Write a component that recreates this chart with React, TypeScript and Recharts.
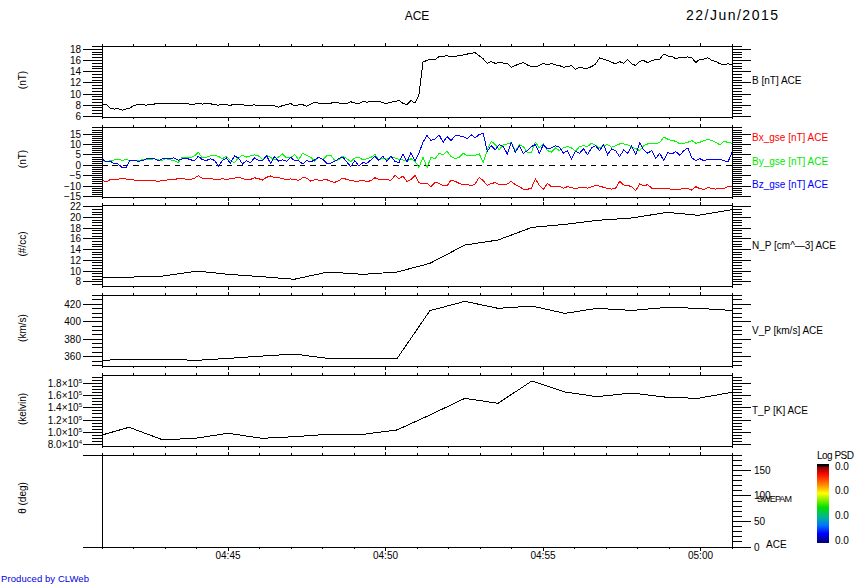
import { LineChart, Line, XAxis, YAxis, ReferenceLine } from "recharts";

const FONT = "'Liberation Sans', Arial, sans-serif";

// magnetic field, nT, evenly spaced over the 20 minutes
const bTotal = [
  8.1, 8.2, 7.5, 7.3, 7.4, 7.1, 7.3, 7.5, 8.0, 8.05, 8.1, 8.0, 8.15, 8.2, 8.3, 8.35, 8.3, 8.3, 8.25, 8.3,
  8.25, 8.3, 8.15, 8.2, 8.25, 8.2, 8.3, 8.25, 8.1, 8.0, 8.1, 8.05, 8.0, 8.1, 8.15, 8.1, 7.95, 8.0, 8.05, 7.9,
  7.85, 7.9, 7.95, 7.9, 7.6, 7.95, 8.1, 8.3, 7.9, 8.05, 8.1, 7.8, 8.2, 8.5, 8.35, 8.35, 8.25, 8.35, 8.55, 8.4,
  8.25, 8.3, 8.6, 8.4, 8.25, 8.65, 8.55, 8.6, 8.7, 8.7, 8.4, 8.35, 8.55, 8.6, 8.85, 8.35, 8.1, 8.85, 8.35, 9.9,
  15.7, 16.05, 16.25, 16.15, 16.7, 16.75, 16.85, 16.7, 16.75, 16.85, 17, 17.15, 17.3, 17.4, 16.85, 16.3, 15.5, 15.8, 15.5, 15.65,
  15.55, 15.5, 14.8, 15.1, 15.4, 15.65, 15.2, 14.9, 14.9, 15.1, 15.5, 15.2, 15.5, 15.2, 15.1, 14.8, 14.9, 15.1, 14.4,
  14.8, 14.65, 14.65, 14.9, 15.4, 16.45, 16.25, 16, 15.7, 15.4, 15.8, 15.5, 16.2, 15.4, 15.1, 15.85, 16, 15.6, 16, 16.15,
  16.25, 17.15, 16.8, 16.8, 16.3, 16.55, 16.45, 16.65, 16.45, 15.65, 16.25, 16.25, 16.5, 16, 15.85, 15.4, 15.3, 15.4, 15.3,
];
const bx = [
  -7.25, -8, -6.95, -6.8, -6.8, -6.15, -6.6, -6.95, -7.1, -7.4, -7.25, -7.1, -7.4, -7.4, -7.75, -7.25, -7.1, -6.95, -6.8, -6.45,
  -6.3, -6.8, -6.8, -6.3, -5, -6.3, -6.6, -6.3, -6.8, -6.8, -6.45, -6.95, -6.45, -6.15, -5.65, -6.45, -6.8, -6.8, -6, -6.45,
  -7.1, -5.8, -5.15, -6, -6, -6.45, -6.8, -6.6, -6.8, -7.25, -6, -6.15, -7.6, -6.95, -7.1, -7.1, -6.95, -7.75, -8.2, -7.4,
  -6.15, -6.8, -7.25, -7.6, -7.6, -7.25, -7.9, -7.4, -6, -6.8, -7.1, -6.95, -7.25, -4.85, -6.45, -5.15, -7.75, -6.8, -4.85, -8.4,
  -9, -8.7, -10.3, -8.2, -8.7, -9.85, -9.85, -7.1, -7.75, -8.7, -9.35, -9, -10, -9, -5.8, -7.4, -9.7, -8.7, -8.4, -9.35,
  -9.5, -9, -7.75, -9.35, -10.3, -11.45, -11.6, -11, -6.6, -9.7, -11.6, -8.7, -10.3, -10.3, -10, -11, -10.3, -10.8, -11.3,
  -10.65, -10.65, -11, -10.3, -9.7, -10, -10.65, -11.15, -11.45, -11, -7.75, -9.5, -9.7, -10.3, -12.25, -9, -9.85, -9.35, -11, -11.3,
  -11.15, -11.15, -11.15, -11.6, -11.45, -11.6, -11.15, -11.3, -11.95, -10.3, -11.3, -11.6, -10.65, -11.3, -11.45, -11, -11.3, -10.3, -10,
];
const by = [
  2.4, 1.6, 2.25, 2.6, 2.9, 2.4, 2.75, 2.4, 2.4, 2.4, 2.6, 2.9, 2.75, 3.2, 2.6, 2.4, 3.2, 2.6, 2.25, 1.3,
  4, 3.85, 3.55, 4.5, 6.3, 3.55, 3.85, 4.5, 4.85, 4.35, 3.2, 4.35, 2.25, 1.3, 3.55, 4.85, 4, 4.5, 5, 4.5,
  2.9, 4.85, 3.85, 2.6, 4, 5.5, 3.55, 3.55, 5.3, 2.75, 5.8, 4.85, 3.85, 1.95, 3.85, 2.75, 4.5, 4.85, 2.25, 2.6,
  4.5, 3.2, 1.8, 3.55, 4, 2.6, 3.2, 3.7, 5.3, 2.6, 3.55, 2.9, 3.85, 3.55, 2.9, 2.6, 1.95, 3.2, 1.95, -1,
  3.85, -1, 3.85, 3.05, 5.8, 5.15, 6.8, 4.2, 3.2, 3.85, 5.8, 4.7, 4.5, 4.85, 5.5, 1.45, 7.4, 11.6, 10, 7.4,
  10, 10.3, 11, 6.8, 10, 9, 6.3, 6.3, 11.1, 8.4, 10.3, 7.1, 6.3, 8.4, 7.1, 8.4, 9, 8.4, 6.8,
  9, 9.5, 9, 10.65, 9.65, 8.4, 9.5, 10, 8.7, 9.5, 10.3, 10.3, 10, 8.7, 8.05, 7.1, 9.5, 10.3, 10.65, 10.3,
  11, 13.55, 12.6, 11.95, 11.6, 10.3, 10.65, 11.1, 11.95, 10.65, 11.1, 11.95, 12.4, 11.95, 11, 9.85, 11.6, 11, 10.65,
];
const bz = [
  3.2, 1.6, 1.95, 0.95, 0.65, -1, -1.15, 2.4, 2.4, 1.95, 2.25, 3.05, 3.2, 3.4, 2.1, 3.05, 3.05, 3.4, 3.55, 2.4,
  3.05, 3.4, 2.75, 2.1, 4.35, 2.75, 2.25, 3.2, 2.4, -0.3, 2.25, 3.55, 0.95, 4.5, 3.55, 0.65, 2.25, 1.3, 3.55, 2.4,
  2.1, 4.7, 0.95, 4.2, 1.95, 2.6, 1.95, 3.85, 2.25, 2.1, 0.65, 2.25, 1.6, 2.6, 3.85, 2.9, 0.95, 0.95, 1.95, 3.2,
  4, 1.6, -0.65, 2.25, -0.3, 1.3, 0.95, 2.6, 4.35, 2.4, 4.35, 1.95, 4.5, 1.95, 1.3, 5.5, 1.6, 6.1, 1.95, 6.1,
  11.1, 14.35, 11.95, 12.75, 14.7, 11.1, 13.85, 11.95, 14.35, 14.2, 13.85, 12.9, 14.7, 13.2, 14.85, 15.5, 6.8, 9.5, 7.4, 10,
  9, 5.5, 11, 6.3, 9.5, 5.8, 7.1, 9, 10, 5.8, 10, 7.9, 8.4, 9.35, 8.7, 5.8, 7.1, 3, 6.8,
  5.8, 7.9, 5.15, 8.4, 9.5, 7.1, 10, 5.15, 7.9, 7.1, 4.2, 7.4, 5.8, 9.35, 5.15, 11, 7.4, 5.8, 7.1, 3.2,
  5.8, 2.25, 6.1, 5.5, 6.6, 4.85, 7.1, 8.4, 3.55, 2.25, 3.2, 2.25, 2.9, 2.6, 3.05, 2.9, 2.25, 1.6, 6.3,
];

// plasma moments, minutes after 04:41
const plasmaMinutes = [0, 0.86, 1.94, 3.02, 4.0, 5.08, 6.1, 7.17, 8.29, 9.37, 10.41, 11.52, 12.57, 13.65, 14.7, 15.71, 16.83, 17.94, 18.92, 20];
const density = [8.82, 8.85, 9.06, 9.99, 9.38, 8.94, 8.45, 9.81, 9.38, 9.81, 11.43, 14.85, 15.78, 18.15, 18.7, 19.45, 19.9, 20.95, 20.4, 21.44];
const speed = [355.8, 357, 357, 355.8, 358, 360.7, 363, 358, 358, 358, 412.7, 423.4, 415.4, 418, 409.6, 415.4, 413, 416.5, 415.4, 413];
const temperature = [95700, 108300, 87600, 90800, 98500, 90300, 93000, 96800, 96800, 104000, 128300, 155500, 147400, 183800, 165800, 158200, 164200, 157100, 155500, 165300];
const theta: number[] = [];

const minuteTicks = [0, 1, 2, 3, 4, 5, 6, 7, 8, 9, 10, 11, 12, 13, 14, 15, 16, 17, 18, 19, 20];
const timeMajors = [4, 9, 14, 19];
const timeLabels = ["04:45", "04:50", "04:55", "05:00"];

const evenly = (values: number[]) => values.map((v, i) => ({ t: (i * 20) / (values.length - 1), v }));
const timed = (values: number[]) => values.map((v, i) => ({ t: plasmaMinutes[i], v }));

const steps = (from: number, to: number, step: number) => {
  const out: number[] = [];
  for (let k = Math.ceil(from / step); k * step <= to; k++) out.push(k * step);
  return out;
};

const sciLabel = (v: number) => {
  const exp = v >= 100000 ? 5 : 4;
  return { base: `${(v / 10 ** exp).toFixed(1)}×10`, exp: String(exp) };
};

function TimeTick({ x, y, payload, up, showLabel }: any) {
  const major = timeMajors.includes(payload.value);
  const len = major ? (up ? 3 : 4) : 2;
  const at = timeMajors.indexOf(payload.value);
  return (
    <g>
      <line x1={x} x2={x} y1={y} y2={up ? y - len : y + len} stroke="#000" shapeRendering="crispEdges" />
      {showLabel && at >= 0 && (
        <text x={x} y={y + 12} textAnchor="middle" fontSize={10} fontFamily={FONT} fill="#000">
          {timeLabels[at]}
        </text>
      )}
    </g>
  );
}

function ValueTick({ x, y, payload, side, majors, labels, sci }: any) {
  const major = majors.includes(payload.value);
  const len = major ? 19 : 10;
  const dir = side === "left" ? -1 : 1;
  const show = major && labels;
  return (
    <g>
      <line x1={x} x2={x + dir * len} y1={y} y2={y} stroke="#000" shapeRendering="crispEdges" />
      {show && !sci && (
        <text x={side === "left" ? x - 21 : x + 22} y={y + 3.5} textAnchor={side === "left" ? "end" : "start"} fontSize={10} fontFamily={FONT} fill="#000">
          {String(payload.value).replace("-", "−")}
        </text>
      )}
      {show && sci && (
        <text x={x - 20} y={y + 3.5} textAnchor="end" fontSize={10} fontFamily={FONT} fill="#000">
          {sciLabel(payload.value).base}
          <tspan fontSize={6} dy={-4}>{sciLabel(payload.value).exp}</tspan>
        </text>
      )}
    </g>
  );
}

interface PanelProps {
  top: number;
  bottom: number;
  domain: [number, number];
  majors: number[];
  minorStep: number;
  leftTicks?: number[];
  leftLabels?: boolean;
  rightLabels?: boolean;
  sci?: boolean;
  timeText?: boolean;
  zeroLine?: boolean;
  series: { values: { t: number; v: number }[]; color: string; name: string }[];
}

function Panel({ top, bottom, domain, majors, minorStep, leftTicks, leftLabels = true, rightLabels = false, sci = false, timeText = false, zeroLine = false, series }: PanelProps) {
  const minors = steps(domain[0], domain[1], minorStep);
  const rightTicks = Array.from(new Set([...minors, ...majors])).sort((a, b) => a - b);
  const left = leftTicks ?? rightTicks;
  const leftMajors = leftTicks ?? majors;
  const line = { stroke: "#000", shapeRendering: "crispEdges" };
  // no stroke: only there so that all four axes of the box have a series and draw their ticks
  const axisCarrier = [{ t: 0, v: domain[0] }, { t: 20, v: domain[1] }];
  return (
    <div style={{ position: "absolute", left: 0, top: top - 10 }}>
      <LineChart width={864} height={bottom - top + 40} margin={{ top: 0, right: 0, bottom: 0, left: 0 }}>
        <XAxis xAxisId="t" orientation="top" type="number" dataKey="t" domain={[0, 20]} ticks={minuteTicks} interval={0} height={10} tickSize={0} tickMargin={0} axisLine={line} tickLine={false} tick={<TimeTick up />} />
        <XAxis xAxisId="b" type="number" dataKey="t" domain={[0, 20]} ticks={minuteTicks} interval={0} height={30} tickSize={0} tickMargin={0} axisLine={line} tickLine={false} tick={<TimeTick showLabel={timeText} />} />
        <YAxis yAxisId="l" type="number" domain={domain} ticks={left} interval={0} width={102} tickSize={0} tickMargin={0} axisLine={line} tickLine={false} tick={<ValueTick side="left" majors={leftMajors} labels={leftLabels} sci={sci} />} />
        <YAxis yAxisId="r" orientation="right" type="number" domain={domain} ticks={rightTicks} interval={0} width={132} tickSize={0} tickMargin={0} axisLine={line} tickLine={false} tick={<ValueTick side="right" majors={majors} labels={rightLabels} />} />
        {zeroLine && <ReferenceLine xAxisId="b" yAxisId="l" y={0} stroke="#000" strokeDasharray="5.5 4.9" shapeRendering="crispEdges" />}
        <Line xAxisId="t" yAxisId="r" data={axisCarrier} dataKey="v" stroke="none" dot={false} isAnimationActive={false} />
        <Line xAxisId="b" yAxisId="l" data={axisCarrier} dataKey="v" stroke="none" dot={false} isAnimationActive={false} />
        {series.map((s) => (
          <Line key={s.name} xAxisId="b" yAxisId="l" data={s.values} dataKey="v" name={s.name} stroke={s.color} strokeWidth={1} dot={false} isAnimationActive={false} shapeRendering="crispEdges" />
        ))}
      </LineChart>
    </div>
  );
}

const axisTitles = [
  { text: "(nT)", y: 80 },
  { text: "(nT)", y: 159 },
  { text: "(#/cc)", y: 244 },
  { text: "(km/s)", y: 328 },
  { text: "(kelvin)", y: 409 },
  { text: "θ (deg)", y: 498 },
];
const sideLabels = [
  { text: "B [nT] ACE", y: 84, color: "#000" },
  { text: "Bx_gse [nT] ACE", y: 141, color: "#f00" },
  { text: "By_gse [nT] ACE", y: 164.5, color: "#00e800" },
  { text: "Bz_gse [nT] ACE", y: 188, color: "#00f" },
  { text: "N_P [cm^—3] ACE", y: 249, color: "#000" },
  { text: "V_P [km/s] ACE", y: 334, color: "#000" },
  { text: "T_P [K] ACE", y: 414, color: "#000" },
];
const psdLabels = ["0.0", "0.0", "0.0", "0.0"];
const psdY = [470, 494, 519, 544];
const psdStops = [
  ["0%", "#000000"], ["2%", "#000000"], ["4%", "#8b0000"], ["14%", "#ff1000"], ["27%", "#ff9000"], ["37%", "#ffff00"],
  ["55%", "#00e000"], ["68%", "#00b0a0"], ["78%", "#0070ff"], ["88%", "#0000ff"], ["100%", "#000070"],
];

function Overlay() {
  const text = { fontFamily: FONT, fill: "#000" };
  return (
    <svg width={864} height={584} style={{ position: "absolute", left: 0, top: 0 }}>
      <defs>
        <linearGradient id="psd" x1="0" y1="0" x2="0" y2="1">
          {psdStops.map(([o, c]) => <stop key={o} offset={o} stopColor={c} />)}
        </linearGradient>
      </defs>
      <text x={417} y={20} textAnchor="middle" fontSize={12} {...text}>ACE</text>
      <text x={686} y={20} fontSize={14} textLength={92} {...text}>22/Jun/2015</text>
      {axisTitles.map((t) => (
        <text key={t.y} transform={`translate(25.5 ${t.y}) rotate(-90)`} textAnchor="middle" fontSize={10} {...text}>{t.text}</text>
      ))}
      {sideLabels.map((l) => (
        <text key={l.text} x={752} y={l.y} fontSize={10} fontFamily={FONT} fill={l.color}>{l.text}</text>
      ))}
      <text x={757} y={502} fontSize={9} textLength={35} {...text}>SWEPAM</text>
      <text x={766} y={548} fontSize={10} {...text}>ACE</text>
      <rect x={817} y={464} width={12} height={79} fill="url(#psd)" />
      <text x={817} y={459} fontSize={10} textLength={37} {...text}>Log PSD</text>
      {psdLabels.map((l, i) => (
        <text key={psdY[i]} x={835} y={psdY[i]} fontSize={10} {...text}>{l}</text>
      ))}
      <text x={1} y={582} fontSize={9.5} fontFamily={FONT} fill="#0000e0" textLength={88}>Produced by CLWeb</text>
    </svg>
  );
}

export default function App() {
  return (
    <div style={{ position: "absolute", left: 0, top: 0, width: 864, height: 584, background: "#fff", overflow: "hidden" }}>
      <Panel top={46} bottom={117} domain={[5.88, 18.6]} majors={[6, 8, 10, 12, 14, 16, 18]} minorStep={0.5}
        series={[{ values: evenly(bTotal), color: "#000", name: "B" }]} />
      <Panel top={127} bottom={197} domain={[-15.28, 18.47]} majors={[-15, -10, -5, 0, 5, 10, 15]} minorStep={1} zeroLine
        series={[
          { values: evenly(bx), color: "#ff0000", name: "Bx" },
          { values: evenly(by), color: "#00ff00", name: "By" },
          { values: evenly(bz), color: "#0000ff", name: "Bz" },
        ]} />
      <Panel top={205} bottom={286} domain={[7.2, 22.32]} majors={[8, 10, 12, 14, 16, 18, 20, 22]} minorStep={0.5}
        series={[{ values: timed(density), color: "#000", name: "N_P" }]} />
      <Panel top={295} bottom={366} domain={[349.3, 430.66]} majors={[360, 380, 400, 420]} minorStep={5}
        series={[{ values: timed(speed), color: "#000", name: "V_P" }]} />
      <Panel top={375} bottom={446} domain={[77800, 193500]} majors={[80000, 100000, 120000, 140000, 160000, 180000]} minorStep={5000} sci
        series={[{ values: timed(temperature), color: "#000", name: "T_P" }]} />
      <Panel top={455} bottom={547} domain={[0, 180]} majors={[0, 50, 100, 150]} minorStep={10} leftTicks={[0, 180]} leftLabels={false} rightLabels timeText
        series={[{ values: timed(theta), color: "#000", name: "theta" }]} />
      <Overlay />
    </div>
  );
}
